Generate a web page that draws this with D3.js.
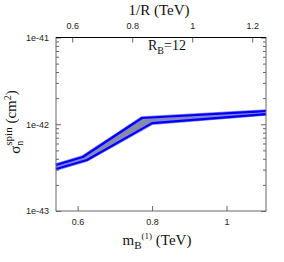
<!DOCTYPE html>
<html>
<head>
<meta charset="utf-8">
<script src="https://cdn.jsdelivr.net/npm/d3@7"></script>
<style>
  body { margin: 0; background: #fff; }
  .tick text { font-family: "Liberation Sans", Arial, sans-serif; font-size: 9px; fill: #222; }
  .ttl { font-family: "Liberation Serif", "Times New Roman", serif; fill: #111; }
</style>
</head>
<body>
<div id="chart"></div>
<script>
// band edges (m_B in TeV, sigma in cm^2)
var upperM = [0.542, 0.614, 0.773, 1.106];
var upperSigma = [3.39e-43, 4.19e-43, 1.18e-42, 1.42e-42];
var lowerM = [0.542, 0.625, 0.800, 1.106];
var lowerSigma = [3.05e-43, 3.87e-43, 1.03e-42, 1.31e-42];

var bottomTicks = [0.6, 0.8, 1];
var topTicks = [0.6, 0.8, 1, 1.2];
var yMajor = [1e-43, 1e-42, 1e-41];

var W = 284, H = 262;
var pLeft = 56, pRight = 266, pTop = 37.5, pBottom = 211;

var svg = d3.select("#chart").append("svg")
  .attr("width", W).attr("height", H);

var x = d3.scaleLinear().domain([0.542, 1.106]).range([pLeft, pRight]);
var xTop = d3.scaleLinear().domain([0.546, 1.246]).range([pLeft, pRight]);
var y = d3.scaleLog().domain([1e-43, 1e-41]).range([pBottom, pTop]);

// minor ticks of the log axis
var yMinor = [];
[1e-43, 1e-42].forEach(function(d) {
  for (var k = 2; k <= 9; k++) yMinor.push(d * k);
});

// band
var upper = upperM.map(function(m, i) { return [m, upperSigma[i]]; });
var lower = lowerM.map(function(m, i) { return [m, lowerSigma[i]]; });
var line = d3.line().x(function(d) { return x(d[0]); }).y(function(d) { return y(d[1]); });

svg.append("path")
  .attr("d", line(upper.concat(lower.slice().reverse())) + "Z")
  .attr("fill", "#8a8aa4");

[upper, lower].forEach(function(pts) {
  svg.append("path")
    .attr("d", line(pts))
    .attr("fill", "none")
    .attr("stroke", "#8080ff")
    .attr("stroke-width", 3.6)
    .attr("stroke-linejoin", "round");
  svg.append("path")
    .attr("d", line(pts))
    .attr("fill", "none")
    .attr("stroke", "#0000f0")
    .attr("stroke-width", 2.2)
    .attr("stroke-linejoin", "round");
});

// axes
var gB = svg.append("g").attr("transform", "translate(0," + pBottom + ")")
  .call(d3.axisBottom(x).tickValues(bottomTicks).tickFormat(d3.format("")).tickSize(-5).tickPadding(8));
var gT = svg.append("g").attr("transform", "translate(0," + pTop + ")")
  .call(d3.axisTop(xTop).tickValues(topTicks).tickFormat(d3.format("")).tickSize(-5).tickPadding(9));
var gL = svg.append("g").attr("transform", "translate(" + pLeft + ",0)")
  .call(d3.axisLeft(y).tickValues(yMajor).tickFormat(function(d) { return "1e" + Math.round(Math.log10(d)); }).tickSize(-5).tickPadding(7));
var gLm = svg.append("g").attr("transform", "translate(" + pLeft + ",0)")
  .call(d3.axisLeft(y).tickValues(yMinor).tickFormat("").tickSize(-3));
var gR = svg.append("g").attr("transform", "translate(" + pRight + ",0)")
  .call(d3.axisRight(y).tickValues(yMajor).tickFormat("").tickSize(-5));
var gRm = svg.append("g").attr("transform", "translate(" + pRight + ",0)")
  .call(d3.axisRight(y).tickValues(yMinor).tickFormat("").tickSize(-3));

[gB, gT, gL, gLm, gR, gRm].forEach(function(g) {
  g.select(".domain").remove();
  g.selectAll(".tick line").attr("stroke", "#666");
});

// frame
svg.append("rect")
  .attr("x", pLeft).attr("y", pTop)
  .attr("width", pRight - pLeft).attr("height", pBottom - pTop)
  .attr("fill", "none").attr("stroke", "#666");
svg.append("line")
  .attr("x1", pLeft).attr("x2", pRight).attr("y1", pTop).attr("y2", pTop)
  .attr("stroke", "#000").attr("stroke-width", 1.2);

// titles
svg.append("text").attr("class", "ttl")
  .attr("x", 159).attr("y", 15).attr("text-anchor", "middle")
  .attr("font-size", 15).text("1/R (TeV)");

var bt = svg.append("text").attr("class", "ttl")
  .attr("x", 157).attr("y", 245).attr("text-anchor", "middle")
  .attr("font-size", 15);
bt.append("tspan").text("m");
bt.append("tspan").attr("dy", 4).attr("font-size", 11).text("B");
bt.append("tspan").attr("dy", -10).attr("font-size", 9).text("(1)");
bt.append("tspan").attr("dy", 6).text(" (TeV)");

var rb = svg.append("text").attr("class", "ttl")
  .attr("x", 148).attr("y", 50).attr("font-size", 14);
rb.append("tspan").text("R");
rb.append("tspan").attr("dy", 4).attr("font-size", 10).text("B");
rb.append("tspan").attr("dy", -4).text("=12");

var yl = svg.append("text").attr("class", "ttl")
  .attr("transform", "translate(20,122) rotate(-90)")
  .attr("text-anchor", "middle").attr("font-size", 15);
yl.append("tspan").text("σ");
yl.append("tspan").attr("dy", 3).attr("font-size", 10).text("n");
yl.append("tspan").attr("dx", -5).attr("dy", -11).attr("font-size", 11).text("spin");
yl.append("tspan").attr("dy", 4).text(" (cm");
yl.append("tspan").attr("dy", -5).attr("font-size", 10).text("2");
yl.append("tspan").attr("dy", 5).text(")");
</script>
</body>
</html>
